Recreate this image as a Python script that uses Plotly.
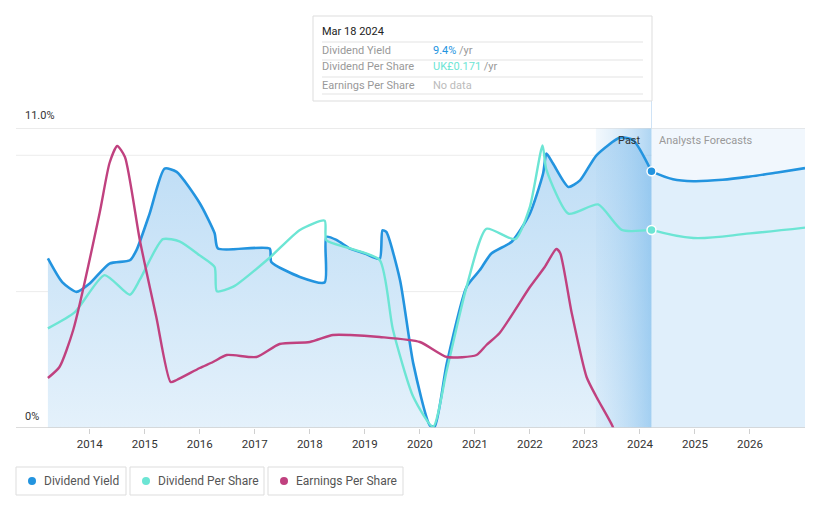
import plotly.graph_objects as go

# ---------------- data ----------------
dy_years = [2013.24, 2013.5, 2013.76, 2014.0, 2014.36, 2014.73, 2014.85, 2015.09, 2015.36, 2015.58,
            2016.0, 2016.27, 2016.33, 2017.27, 2017.3, 2017.82, 2018.27, 2018.30, 2018.49, 2018.73,
            2019.0, 2019.27, 2019.32, 2019.39, 2019.64, 2019.88, 2020.18, 2020.27, 2020.49, 2020.85,
            2021.09, 2021.30, 2021.67, 2022.0, 2022.24, 2022.30, 2022.42, 2022.70, 2022.91, 2023.21,
            2023.64, 2023.88, 2024.21]
dy_values = [6.22, 5.35, 4.99, 5.3, 6.03, 6.15, 6.52, 7.87, 9.51, 9.39,
             8.24, 7.14, 6.58, 6.58, 6.09, 5.54, 5.34, 7.01, 6.89, 6.58,
             6.4, 6.2, 7.25, 7.19, 5.42, 2.37, 0.1, 0.05, 2.37, 5.18,
             5.79, 6.40, 6.83, 7.86, 9.33, 10.06, 9.70, 8.84, 9.08, 10.0,
             10.65, 10.55, 9.41]
dy_fc_years = [2024.21, 2024.6, 2024.97, 2025.5, 2026.0, 2026.5, 2027.0]
dy_fc_values = [9.41, 9.12, 9.05, 9.1, 9.22, 9.37, 9.53]

dps_years = [2013.24, 2013.73, 2014.27, 2014.73, 2014.91, 2015.33, 2015.64, 2016.0, 2016.27, 2016.31,
             2016.61, 2017.27, 2017.82, 2018.27, 2018.30, 2018.73, 2019.27, 2019.51, 2019.88, 2020.24,
             2020.49, 2020.85, 2021.21, 2021.73, 2022.0, 2022.23, 2022.30, 2022.70, 2023.24, 2023.67,
             2024.21]
dps_values = [0.086, 0.100, 0.132, 0.115, 0.128, 0.163, 0.161, 0.149, 0.139, 0.118,
              0.122, 0.147, 0.171, 0.179, 0.162, 0.155, 0.145, 0.085, 0.027, 0.001,
              0.050, 0.122, 0.172, 0.163, 0.191, 0.244, 0.223, 0.185, 0.193, 0.171,
              0.171]
dps_fc_years = [2024.21, 2024.97, 2026.0, 2027.0]
dps_fc_values = [0.171, 0.164, 0.168, 0.173]

eps_years = [2013.24, 2013.45, 2013.70, 2014.18, 2014.36, 2014.50, 2014.64, 2014.91, 2015.21, 2015.47,
             2015.58, 2016.0, 2016.24, 2016.49, 2017.03, 2017.45, 2018.0, 2018.42, 2018.73, 2019.27,
             2020.0, 2020.49, 2021.03, 2021.21, 2021.45, 2022.0, 2022.27, 2022.48, 2022.55, 2022.76,
             2023.03, 2023.21, 2023.50, 2023.6]
eps_values = [0.050, 0.061, 0.098, 0.215, 0.265, 0.282, 0.271, 0.188, 0.111, 0.046,
              0.048, 0.060, 0.066, 0.073, 0.071, 0.084, 0.086, 0.093, 0.093, 0.091,
              0.086, 0.071, 0.073, 0.083, 0.095, 0.141, 0.161, 0.179, 0.175, 0.115,
              0.051, 0.031, 0.002, -0.015]

year_ticks = [2014, 2015, 2016, 2017, 2018, 2019, 2020, 2021, 2022, 2023, 2024, 2025, 2026]
x_start, x_end = 2012.66, 2027.0
past_start, today = 2023.2, 2024.21
y_max = 11.0
dps_max = 0.259
eps_max = 0.30

BLUE = "#2394df"
TEAL = "#6ce5d4"
MAG = "#c0417f"
FONT = "Roboto, 'Open Sans', sans-serif"

# page body has an 8px margin; screen plot area is 16..805 x, 128..428 y
OFF = 8
W, H = 821 - 2 * OFF, 508 - 2 * OFF
L, R, T, B = 16, 805, 128, 428
def px(x):
    return (x - L) / (R - L)
def py(y):
    return (B - y) / (B - T)

fig = go.Figure()

# forecast DY fill
fig.add_trace(go.Scatter(x=dy_fc_years, y=dy_fc_values, mode="lines", line=dict(width=0, shape="spline"),
                         fill="tozeroy", fillcolor="rgba(205,228,248,0.45)", hoverinfo="skip", showlegend=False))
# past DY fill with vertical gradient
fig.add_trace(go.Scatter(x=dy_years, y=dy_values, mode="lines", line=dict(width=0, shape="spline", smoothing=0.6),
                         fill="tozeroy",
                         fillgradient=dict(type="vertical", start=0, stop=10.7,
                                           colorscale=[[0, "rgba(228,241,251,1)"], [1, "rgba(188,220,245,1)"]]),
                         hoverinfo="skip", showlegend=False))
# past band with horizontal gradient
fig.add_trace(go.Scatter(x=[past_start, today, today, past_start, past_start], y=[0, 0, y_max, y_max, 0],
                         mode="lines", line=dict(width=0), fill="toself",
                         fillgradient=dict(type="horizontal", start=past_start, stop=today,
                                           colorscale=[[0, "rgba(170,210,242,0.15)"], [1, "rgba(120,185,235,0.6)"]]),
                         hoverinfo="skip", showlegend=False))

# lines
fig.add_trace(go.Scatter(x=dy_years, y=dy_values, mode="lines",
                         line=dict(color=BLUE, width=2.6, shape="spline", smoothing=0.6), showlegend=False))
fig.add_trace(go.Scatter(x=dy_fc_years, y=dy_fc_values, mode="lines",
                         line=dict(color=BLUE, width=2.6, shape="spline"), showlegend=False))
fig.add_trace(go.Scatter(x=dps_years, y=dps_values, mode="lines", yaxis="y2",
                         line=dict(color=TEAL, width=2.4, shape="spline", smoothing=0.6), showlegend=False))
fig.add_trace(go.Scatter(x=dps_fc_years, y=dps_fc_values, mode="lines", yaxis="y2",
                         line=dict(color=TEAL, width=2.4, shape="spline"), showlegend=False))
fig.add_trace(go.Scatter(x=eps_years, y=eps_values, mode="lines", yaxis="y3",
                         line=dict(color=MAG, width=2.4, shape="spline", smoothing=0.6), showlegend=False))
# markers at today
fig.add_trace(go.Scatter(x=[dy_years[-1]], y=[dy_values[-1]], mode="markers", cliponaxis=False,
                         marker=dict(color=BLUE, size=9, line=dict(color="white", width=1.5)), showlegend=False))
fig.add_trace(go.Scatter(x=[dps_years[-1]], y=[dps_values[-1]], mode="markers", yaxis="y2", cliponaxis=False,
                         marker=dict(color=TEAL, size=9, line=dict(color="white", width=1.5)), showlegend=False))

shapes = []
# forecast background
shapes.append(dict(type="rect", xref="x", yref="y", x0=today, x1=x_end, y0=0, y1=y_max,
                   fillcolor="#f1f7fd", line=dict(width=0), layer="below"))
# gridlines
for gy in [10, 5]:
    shapes.append(dict(type="line", xref="paper", yref="y", x0=0, x1=1, y0=gy, y1=gy,
                       line=dict(color="#ececec", width=1), layer="below"))
shapes.append(dict(type="line", xref="paper", yref="y", x0=0, x1=1, y0=y_max, y1=y_max,
                   line=dict(color="#d8d8d8", width=1)))
shapes.append(dict(type="line", xref="paper", yref="y", x0=0, x1=1, y0=0, y1=0,
                   line=dict(color="#d0d0d0", width=1.5)))
# vertical today line (above the plot area only, beneath the tooltip)
shapes.append(dict(type="line", xref="x", yref="paper", x0=today, x1=today, y0=1, y1=py(101),
                   line=dict(color="#cfe3f6", width=1)))
# tooltip box
shapes.append(dict(type="rect", xref="paper", yref="paper", x0=px(313), x1=px(652), y0=py(101), y1=py(16),
                   fillcolor="white", line=dict(color="#dddddd", width=1)))
for ly in [42, 60, 77, 94]:
    shapes.append(dict(type="line", xref="paper", yref="paper", x0=px(322), x1=px(643), y0=py(ly), y1=py(ly),
                       line=dict(color="#e3e3e3", width=1)))
# legend boxes
legend_items = [("Dividend Yield", BLUE, 16, 126), ("Dividend Per Share", TEAL, 130, 264),
                ("Earnings Per Share", MAG, 268, 403)]
annotations = []
for name, col, x0, x1 in legend_items:
    shapes.append(dict(type="rect", xref="paper", yref="paper", x0=px(x0), x1=px(x1), y0=py(495), y1=py(467),
                       fillcolor="white", line=dict(color="#dddddd", width=1)))
    shapes.append(dict(type="circle", xref="paper", yref="paper", x0=px(x0 + 12), x1=px(x0 + 20),
                       y0=py(485), y1=py(477), fillcolor=col, line=dict(width=0)))
    annotations.append(dict(xref="paper", yref="paper", x=px(x0 + 26), y=py(481), text=name,
                            showarrow=False, xanchor="left", yanchor="middle",
                            font=dict(family=FONT, size=12, color="#555555")))

# y labels
annotations.append(dict(xref="paper", yref="paper", x=px(23), y=py(116), text="11.0%", showarrow=False,
                        xanchor="left", yanchor="middle", font=dict(family=FONT, size=11, color="#333333")))
annotations.append(dict(xref="paper", yref="paper", x=px(23), y=py(416), text="0%", showarrow=False,
                        xanchor="left", yanchor="middle", font=dict(family=FONT, size=11, color="#333333")))
# past / forecast labels
annotations.append(dict(xref="x", yref="paper", x=today - 0.15, y=py(140), text="Past", showarrow=False,
                        xanchor="right", yanchor="middle", font=dict(family=FONT, size=11, color="#333333")))
annotations.append(dict(xref="x", yref="paper", x=today + 0.1, y=py(140), text="Analysts Forecasts",
                        showarrow=False, xanchor="left", yanchor="middle",
                        font=dict(family=FONT, size=11, color="#999999")))
# tooltip text
annotations.append(dict(xref="paper", yref="paper", x=px(320), y=py(32), text="Mar 18 2024", showarrow=False,
                        xanchor="left", yanchor="middle", font=dict(family=FONT, size=11, color="#222222")))
rows = [("Dividend Yield", "<span style='color:%s'>9.4%%</span> /yr" % BLUE, 50),
        ("Dividend Per Share", "<span style='color:%s'>UK£0.171</span> /yr" % TEAL, 67),
        ("Earnings Per Share", "<span style='color:#bbbbbb'>No data</span>", 85)]
for lab, val, yy in rows:
    annotations.append(dict(xref="paper", yref="paper", x=px(320), y=py(yy), text=lab, showarrow=False,
                            xanchor="left", yanchor="middle", font=dict(family=FONT, size=11, color="#999999")))
    annotations.append(dict(xref="paper", yref="paper", x=px(431), y=py(yy), text=val, showarrow=False,
                            xanchor="left", yanchor="middle", font=dict(family=FONT, size=11, color="#999999")))

fig.update_layout(
    width=W, height=H,
    margin=dict(l=L - OFF, r=W - (R - OFF), t=T - OFF, b=H - (B - OFF)),
    paper_bgcolor="white", plot_bgcolor="white",
    showlegend=False,
    font=dict(family=FONT),
    xaxis=dict(range=[x_start, x_end], tickvals=year_ticks, ticktext=[str(t) for t in year_ticks],
               showgrid=False, zeroline=False, showline=False, ticks="outside", ticklen=5,
               tickcolor="#d0d0d0", tickfont=dict(family=FONT, size=11.5, color="#333333")),
    yaxis=dict(range=[0, y_max], showgrid=False, zeroline=False, showticklabels=False, fixedrange=True),
    yaxis2=dict(range=[0, dps_max], overlaying="y", visible=False),
    yaxis3=dict(range=[0, eps_max], overlaying="y", visible=False),
    shapes=shapes, annotations=annotations,
)

fig.write_html("out.html")
